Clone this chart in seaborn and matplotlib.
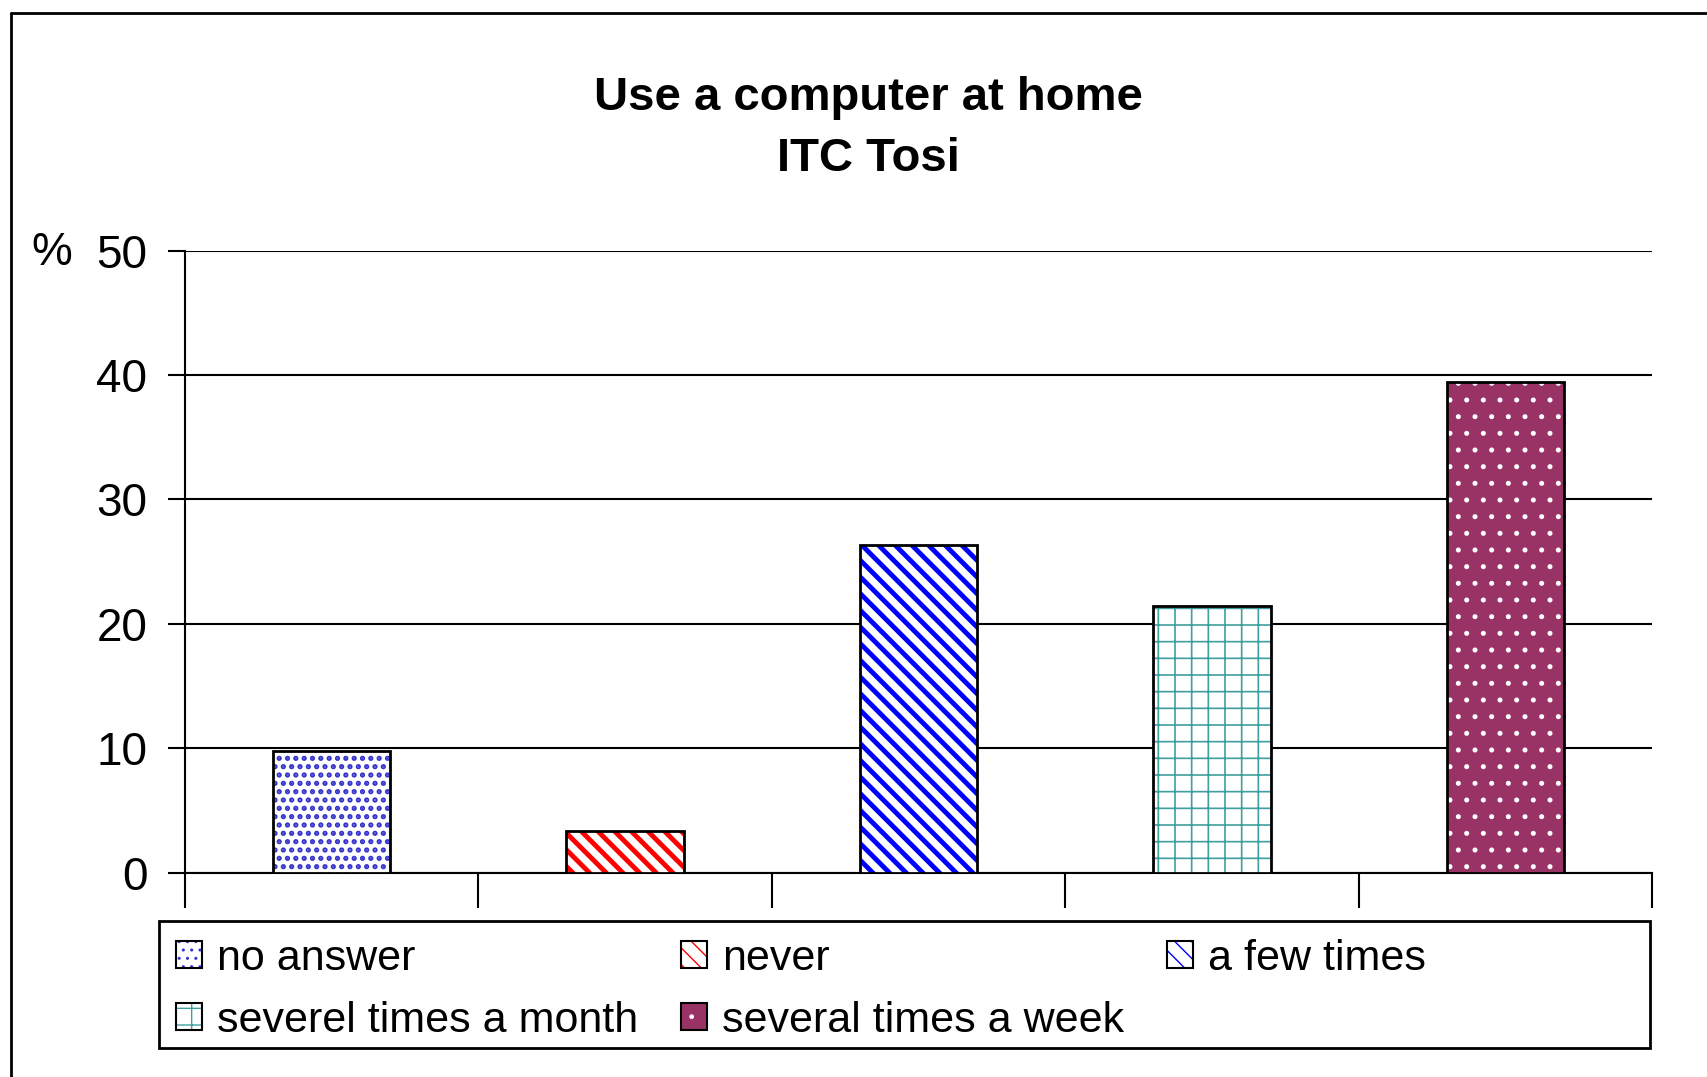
import matplotlib
matplotlib.use("Agg")
import matplotlib.pyplot as plt
import seaborn as sns
import pandas as pd
from matplotlib.patches import Patch, Rectangle
from matplotlib.lines import Line2D
from matplotlib.legend_handler import HandlerTuple

# data
categories = ["no answer", "never", "a few times",
              "severel times a month", "several times a week"]
percent = [9.8, 3.3, 26.3, 21.4, 39.4]
y_ticks = [0, 10, 20, 30, 40, 50]

# fill / hatch per category (Excel-like pattern fills)
fills = ["white", "white", "white", "white", "#993366"]
hatch_colors = ["#3333cc", "#ff0000", "#0000ff", "#3f9f9f", "white"]
hatches = ["..", "\\\\", "\\\\", "+", "."]
hatch_widths = [2.5, 3.5, 3.5, 1.2, 1.2]

df = pd.DataFrame({"category": categories, "percent": percent})

sns.set_style("white")
plt.rcParams["font.family"] = ["Liberation Sans", "DejaVu Sans"]
plt.rcParams["text.color"] = "black"
plt.rcParams["ytick.color"] = "black"
plt.rcParams["xtick.color"] = "black"


def hatch_layer(xy, w, h, hatch, color, lw, **kw):
    # separate patch so the hatch gets its own colour and line width
    with plt.rc_context({"hatch.linewidth": lw, "hatch.color": color}):
        p = Rectangle(xy, w, h, fill=False, edgecolor=color, linewidth=0, hatch=hatch, **kw)
    try:
        p.set_hatch_linewidth(lw)
    except AttributeError:
        pass
    return p


fig = plt.figure(figsize=(17.08, 10.77), dpi=100)
ax = fig.add_axes([185 / 1708, 1 - 872.5 / 1077, (1652 - 185) / 1708, (872.5 - 250.5) / 1077])

sns.barplot(data=df, x="category", y="percent", order=categories,
            width=0.4, color="white", ax=ax, zorder=3)

for bar, fc, hc, h, hw in zip(list(ax.patches), fills, hatch_colors, hatches, hatch_widths):
    bar.set_facecolor(fc)
    bar.set_edgecolor("black")
    bar.set_linewidth(0)
    x0, y0 = bar.get_xy()
    w, hgt = bar.get_width(), bar.get_height()
    ax.add_patch(hatch_layer((x0, y0), w, hgt, h, hc, hw, zorder=3.1))
    ax.add_patch(Rectangle((x0, y0), w, hgt, fill=False, edgecolor="black",
                           linewidth=2, zorder=3.2))

ax.set_ylim(0, 50)
ax.set_xlim(-0.5, len(categories) - 0.5)
ax.set_yticks(y_ticks)
ax.set_yticklabels([str(t) for t in y_ticks], fontsize=33)
ax.set_xticks([])
ax.set_xticks([i - 0.5 for i in range(len(categories) + 1)], minor=True)
ax.tick_params(axis="x", which="minor", bottom=True, length=25, width=1.5,
               direction="out", color="black")
ax.tick_params(axis="y", left=True, length=12, width=1.5, direction="out",
               color="black", pad=15)
ax.set_xlabel("")
ax.set_ylabel("")
ax.yaxis.grid(True, color="black", linewidth=1.5)
ax.set_axisbelow(True)
for side in ["top", "right"]:
    ax.spines[side].set_visible(False)
for side in ["left", "bottom"]:
    ax.spines[side].set_color("black")
    ax.spines[side].set_linewidth(1.5)

fig.text(52 / 1708, 1 - 253 / 1077, "%", fontsize=33, ha="center", va="center")
fig.text(868 / 1708, 1 - 98 / 1077, "Use a computer at home", fontsize=34,
         fontweight="bold", ha="center", va="center")
fig.text(868 / 1708, 1 - 159 / 1077, "ITC Tosi", fontsize=34,
         fontweight="bold", ha="center", va="center")

# outer chart-area border (only left and top edges visible)
fig.add_artist(Line2D([11 / 1708, 11 / 1708], [0, 1 - 13 / 1077], color="black", lw=2))
fig.add_artist(Line2D([11 / 1708, 1], [1 - 13 / 1077, 1 - 13 / 1077], color="black", lw=2))

# legend box
lx0, lx1 = 159 / 1708, 1650 / 1708
ly0, ly1 = 1 - 1048 / 1077, 1 - 921 / 1077
fig.add_artist(Rectangle((lx0, ly0), lx1 - lx0, ly1 - ly0, transform=fig.transFigure,
                         fill=False, edgecolor="black", lw=2))

handles = []
for fc, hc, h, hw in zip(fills, hatch_colors, hatches, hatch_widths):
    base = Patch(facecolor=fc, edgecolor="none", linewidth=0)
    hl = hatch_layer((0, 0), 1, 1, h, hc, min(hw, 2.5))
    outline = Patch(fill=False, edgecolor="black", linewidth=1.5)
    handles.append((base, hl, outline))

# row-wise order for a 3-column legend
order = [0, 3, 1, 4, 2]
fig.legend([handles[i] for i in order], [categories[i] for i in order],
           handler_map={tuple: HandlerTuple(ndivide=1)},
           ncol=3, loc="upper left", bbox_to_anchor=(176 / 1708, 1 - 939 / 1077),
           frameon=False, fontsize=31, handlelength=0.6, handleheight=0.6,
           handletextpad=0.35, columnspacing=1.0, labelspacing=0.5,
           borderpad=0, borderaxespad=0)

fig.savefig("out.png", dpi=100, facecolor="white")
